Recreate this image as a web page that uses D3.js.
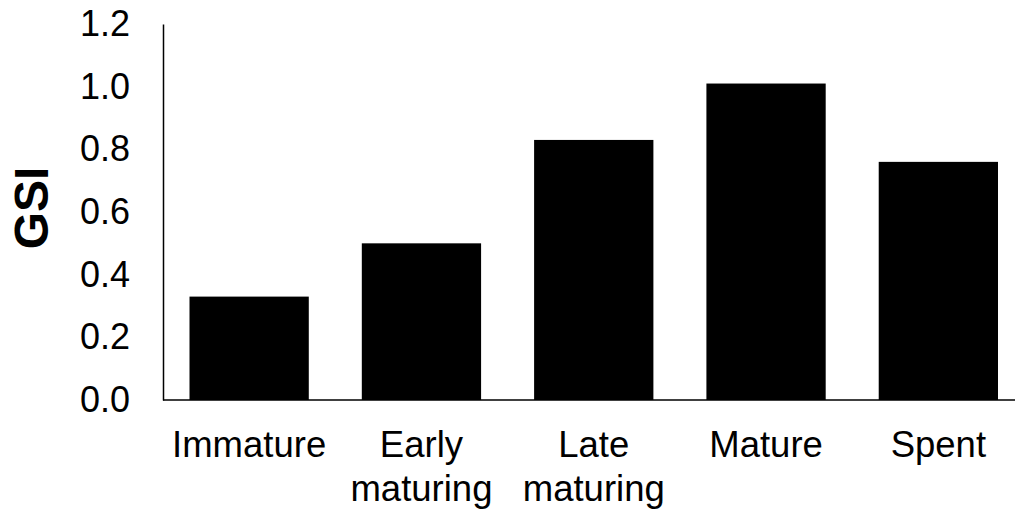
<!DOCTYPE html>
<html>
<head>
<meta charset="utf-8">
<script src="https://cdn.jsdelivr.net/npm/d3@7"></script>
<style>
  body { margin: 0; background: #fff; }
  text { font-family: "Liberation Sans", Arial, sans-serif; fill: #000; }
</style>
</head>
<body>
<div id="chart"></div>
<script>
// data
var stages = ["Immature", "Early maturing", "Late maturing", "Mature", "Spent"];
var stage_lines = [["Immature"], ["Early", "maturing"], ["Late", "maturing"], ["Mature"], ["Spent"]];
var gsi = [0.33, 0.50, 0.83, 1.01, 0.76];
var y_ticks = [0.0, 0.2, 0.4, 0.6, 0.8, 1.0, 1.2];

var view_width = 1015;
var view_height = 512;
var margin = {top: 24, left: 163};
var plot_bottom = 400;
var step = 172.3;

var svg = d3.select("#chart")
    .append("svg")
        .attr("width", view_width)
        .attr("height", view_height);

var x_scale = d3.scaleBand()
    .domain(stages)
    .range([margin.left, margin.left + step * stages.length])
    .paddingInner(0.3077)
    .paddingOuter(0.1538);

var y_scale = d3.scaleLinear()
    .domain([0, 1.2])
    .range([plot_bottom, margin.top]);

// bars
svg.selectAll(".bar")
    .data(gsi)
    .enter()
    .append("rect")
        .attr("class", "bar")
        .attr("x", function(d, i) { return x_scale(stages[i]); })
        .attr("width", x_scale.bandwidth())
        .attr("y", function(d) { return y_scale(d); })
        .attr("height", function(d) { return plot_bottom - y_scale(d); })
        .attr("fill", "#000");

// y axis
var y_axis = svg.append("g")
    .attr("transform", "translate(" + margin.left + ",0)")
    .call(d3.axisLeft(y_scale).tickValues(y_ticks).tickFormat(d3.format(".1f")).tickSize(0).tickPadding(33));
y_axis.select(".domain").attr("stroke", "#000").attr("stroke-width", 1.5);
y_axis.selectAll("text")
    .style("font-family", '"Liberation Sans", Arial, sans-serif')
    .style("font-size", "36px");

// x axis
svg.append("line")
    .attr("x1", margin.left)
    .attr("x2", view_width)
    .attr("y1", plot_bottom)
    .attr("y2", plot_bottom)
    .attr("stroke", "#000")
    .attr("stroke-width", 1.5);

var xlab = svg.selectAll(".xlab")
    .data(stages)
    .enter()
    .append("text")
        .attr("class", "xlab")
        .attr("text-anchor", "middle")
        .style("font-size", "36.5px")
        .attr("transform", function(d) { return "translate(" + (x_scale(d) + x_scale.bandwidth() / 2) + ",457)"; });

xlab.selectAll("tspan")
    .data(function(d, i) { return stage_lines[i]; })
    .enter()
    .append("tspan")
        .attr("x", 0)
        .attr("y", function(d, j) { return j * 43.5; })
        .text(function(d) { return d; });

// y title
svg.append("text")
    .attr("transform", "translate(48,208)rotate(-90)")
    .attr("text-anchor", "middle")
    .style("font-size", "48px")
    .style("font-weight", "bold")
    .text("GSI");
</script>
</body>
</html>
